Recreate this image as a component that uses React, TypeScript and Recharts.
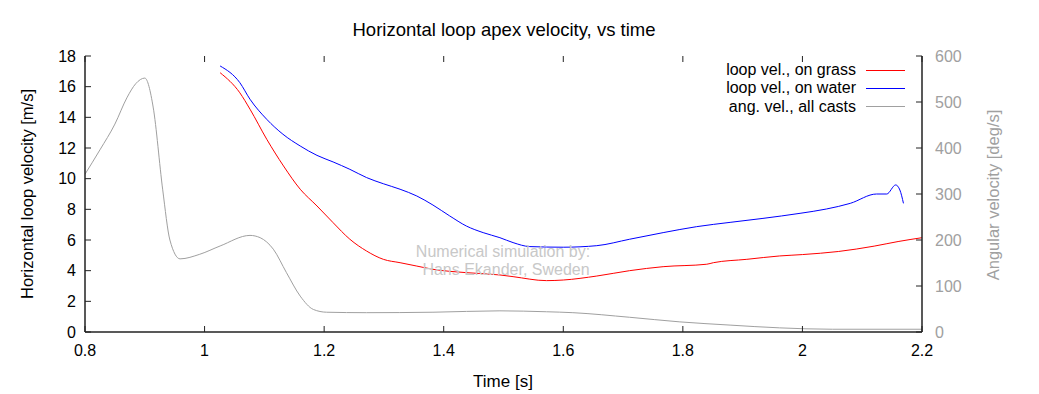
import React from 'react'
import { LineChart, Line, XAxis, YAxis } from 'recharts'

// Horizontal loop apex velocity vs time (gnuplot-style figure).
// Loop velocities on the left axis [m/s], angular velocity on the right axis [deg/s].

const GRASS_T = [1.026, 1.059, 1.076, 1.104, 1.132, 1.16, 1.188, 1.215, 1.243, 1.271, 1.299, 1.327, 1.355, 1.382, 1.438, 1.494, 1.516, 1.572, 1.6, 1.656, 1.711, 1.767, 1.84, 1.851, 1.907, 1.962, 2.0, 2.06, 2.12, 2.16, 2.2]
const GRASS_V = [16.91, 15.6, 14.53, 12.57, 10.83, 9.31, 8.22, 7.13, 6.05, 5.28, 4.74, 4.52, 4.3, 4.09, 3.87, 3.72, 3.61, 3.35, 3.39, 3.65, 4.0, 4.26, 4.42, 4.52, 4.74, 4.96, 5.05, 5.25, 5.6, 5.9, 6.15]

const WATER_T = [1.026, 1.059, 1.076, 1.104, 1.131, 1.16, 1.188, 1.215, 1.243, 1.271, 1.299, 1.327, 1.355, 1.382, 1.41, 1.438, 1.466, 1.494, 1.516, 1.544, 1.6, 1.656, 1.711, 1.767, 1.823, 1.879, 1.934, 1.996, 2.04, 2.08, 2.124, 2.141, 2.156, 2.163, 2.169]
const WATER_V = [17.35, 16.26, 15.18, 13.87, 12.9, 12.13, 11.52, 11.09, 10.61, 10.07, 9.67, 9.31, 8.87, 8.28, 7.57, 6.91, 6.48, 6.15, 5.83, 5.57, 5.53, 5.63, 6.05, 6.48, 6.87, 7.15, 7.41, 7.74, 8.02, 8.39, 9.0, 9.0, 9.59, 9.26, 8.39]

const ANG_T = [0.8, 0.825, 0.85, 0.87, 0.885, 0.9, 0.914, 0.93, 0.942, 0.959, 0.992, 1.026, 1.076, 1.093, 1.115, 1.137, 1.16, 1.182, 1.204, 1.271, 1.382, 1.494, 1.572, 1.616, 1.711, 1.795, 1.879, 1.962, 2.05, 2.2]
const ANG_V = [343, 396, 452, 509, 540, 552, 489, 309, 200, 159, 169, 187, 210, 205, 180, 129, 78, 49, 43, 42, 43, 46, 44, 42, 32, 22, 15, 9, 6, 6]

const X_TICKS = [0.8, 1, 1.2, 1.4, 1.6, 1.8, 2, 2.2]
const Y_TICKS = [0, 2, 4, 6, 8, 10, 12, 14, 16, 18]
const Y2_TICKS = [0, 100, 200, 300, 400, 500, 600]

const zip = (t: number[], v: number[]) => t.map((x, i) => ({ t: x, v: v[i] }))

const GREY = '#a0a0a0'
const SERIES = [
  { name: 'loop vel., on grass', color: '#ff0000', axis: 'left', data: zip(GRASS_T, GRASS_V) },
  { name: 'loop vel., on water', color: '#0000ff', axis: 'left', data: zip(WATER_T, WATER_V) },
  { name: 'ang. vel., all casts', color: GREY, axis: 'right', data: zip(ANG_T, ANG_V) },
]

const FONT = '"Liberation Sans", Arial, sans-serif'
const W = 1039
const H = 394
const M = { top: 56, right: 0, bottom: 0, left: 0 }
const X_AXIS_H = 62
const PLOT_H = H - M.top - X_AXIS_H
const FRAME = '#222'

const XTick = (p: any) => (
  <g>
    <line x1={p.x} y1={p.y} x2={p.x} y2={p.y - 6} stroke={FRAME} />
    <line x1={p.x} y1={p.y - PLOT_H} x2={p.x} y2={p.y - PLOT_H + 6} stroke={FRAME} />
    <text x={p.x} y={p.y + 24} textAnchor="middle" fontSize={16} fontFamily={FONT} fill="#000">
      {p.payload.value}
    </text>
  </g>
)

const YTick = (p: any) => (
  <g>
    <line x1={p.x} y1={p.y} x2={p.x + 6} y2={p.y} stroke={FRAME} />
    <text x={p.x - 9} y={p.y} dy="0.36em" textAnchor="end" fontSize={16} fontFamily={FONT} fill="#000">
      {p.payload.value}
    </text>
  </g>
)

const Y2Tick = (p: any) => (
  <g>
    <line x1={p.x} y1={p.y} x2={p.x - 6} y2={p.y} stroke={FRAME} />
    <text x={p.x + 13} y={p.y} dy="0.36em" textAnchor="start" fontSize={16} fontFamily={FONT} fill={GREY}>
      {p.payload.value}
    </text>
  </g>
)

export default function App() {
  return (
    <div style={{ position: 'absolute', left: 0, top: 0, width: W, height: H, background: '#fff' }}>
      <LineChart width={W} height={H} margin={M}>
        <XAxis
          dataKey="t"
          type="number"
          domain={[0.8, 2.2]}
          ticks={X_TICKS}
          allowDataOverflow
          height={X_AXIS_H}
          axisLine={{ stroke: FRAME, strokeWidth: 1.5 }}
          tickLine={false}
          tickSize={0}
          tickMargin={0}
          tick={XTick}
        />
        <XAxis
          xAxisId="top"
          orientation="top"
          type="number"
          domain={[0.8, 2.2]}
          ticks={X_TICKS}
          height={0}
          axisLine={{ stroke: FRAME, strokeWidth: 1.5 }}
          tickLine={false}
          tick={false}
        />
        <YAxis
          yAxisId="left"
          type="number"
          domain={[0, 18]}
          ticks={Y_TICKS}
          width={85}
          axisLine={{ stroke: FRAME, strokeWidth: 1.5 }}
          tickLine={false}
          tickSize={0}
          tickMargin={0}
          tick={YTick}
        />
        <YAxis
          yAxisId="right"
          orientation="right"
          type="number"
          domain={[0, 600]}
          ticks={Y2_TICKS}
          width={117}
          axisLine={{ stroke: FRAME, strokeWidth: 1.5 }}
          tickLine={false}
          tickSize={0}
          tickMargin={0}
          tick={Y2Tick}
        />
        {SERIES.map((s) => (
          <Line
            key={s.name}
            yAxisId={s.axis}
            data={s.data}
            dataKey="v"
            name={s.name}
            type="monotone"
            stroke={s.color}
            strokeWidth={1}
            dot={false}
            isAnimationActive={false}
          />
        ))}
      </LineChart>
      <div style={{ position: 'absolute', left: 600, top: 61, width: 305, fontFamily: FONT, fontSize: 16, color: '#000' }}>
        {SERIES.map((s) => (
          <div key={s.name} style={{ display: 'flex', justifyContent: 'flex-end', alignItems: 'center', height: 18.3 }}>
            <span>{s.name}</span>
            <span style={{ display: 'inline-block', width: 39, height: 1, marginLeft: 10, background: s.color }} />
          </div>
        ))}
      </div>
      <svg width={W} height={H} style={{ position: 'absolute', left: 0, top: 0, pointerEvents: 'none' }} fontFamily={FONT} fontSize={16}>
        <text x={504} y={30} dy="0.35em" textAnchor="middle" fontSize={18.5} fill="#000">Horizontal loop apex velocity, vs time</text>
        <text x={503} y={381} dy="0.35em" textAnchor="middle" fontSize={17} fill="#000">Time [s]</text>
        <text transform="translate(27,194) rotate(-90)" dy="0.35em" textAnchor="middle" fontSize={16.5} fill="#000">Horizontal loop velocity [m/s]</text>
        <text transform="translate(993,195) rotate(-90)" dy="0.35em" textAnchor="middle" fontSize={16.5} fill={GREY}>Angular velocity [deg/s]</text>
        <text x={503} y={251} dy="0.35em" textAnchor="middle" fill="#c8c8c8">Numerical simulation by:</text>
        <text x={506} y={269} dy="0.35em" textAnchor="middle" fill="#c8c8c8">Hans Ekander, Sweden</text>
      </svg>
    </div>
  )
}
